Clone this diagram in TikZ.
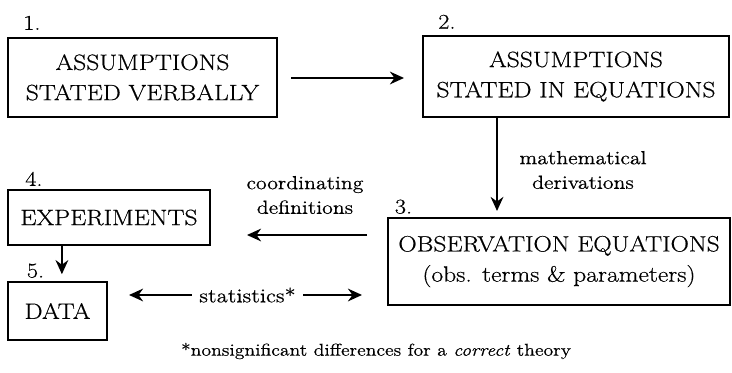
\documentclass[tikz,border=0pt]{standalone}
\usepackage{fontspec}
\setmainfont{Latin Modern Roman}[FakeStretch=1.15, FakeBold=0.5]
\usetikzlibrary{arrows.meta}
\tikzset{
    box/.style={draw, line width=1.4pt, align=center, inner sep=0pt,
        font=\fontsize{15.8}{21.5}\selectfont},
    num/.style={anchor=south west, inner sep=2pt, font=\fontsize{15}{17}\selectfont},
    lbl/.style={align=center, font=\fontsize{13.5}{17.5}\selectfont},
    flow/.style={->, line width=1.6pt},
    >={Stealth[length=10pt,width=9pt]},
}

\begin{document}
\begin{tikzpicture}
    \useasboundingbox (0,0) rectangle (18.3,9.325);
    % the five boxes
    \node [box, minimum width=6.725cm, minimum height=1.975cm] (verbal) at (3.5625,7.39) {ASSUMPTIONS\\STATED VERBALLY};
    \node [box, minimum width=7.65cm, minimum height=2.025cm] (eqs) at (14.4,7.4125) {ASSUMPTIONS\\STATED IN EQUATIONS};
    \node [box, minimum width=8.55cm, minimum height=2.175cm] (obs) at (13.975,2.7875) {OBSERVATION EQUATIONS\\(obs. terms \& parameters)};
    \node [box, minimum width=5.05cm, minimum height=1.375cm] (expt) at (2.725,3.8875) {EXPERIMENTS};
    \node [box, minimum width=2.475cm, minimum height=1.45cm] (data) at (1.4375,1.55) {DATA};
    % numbers
    \node [num] (n1) at ([xshift=0.33cm,yshift=0.1cm]verbal.north west) {1.};
    \node [num] (n2) at ([xshift=0.33cm,yshift=0.08cm]eqs.north west) {2.};
    \node [num] (n3) at ([xshift=0.12cm]obs.north west) {3.};
    \node [num] (n4) at ([xshift=0.38cm]expt.north west) {4.};
    \node [num] (n5) at ([xshift=0.42cm]data.north west) {5.};
    % arrows
    \draw [flow, shorten <=0.33cm, shorten >=0.45cm] ([yshift=-0.015cm]verbal.east) -- ([yshift=-0.015cm]verbal.east -| eqs.west);
    \draw [flow, shorten >=0.15cm] ([xshift=1.875cm]eqs.south west) -- ([xshift=1.875cm]eqs.south west |- obs.north);
    \draw [flow, shorten <=0.5cm, shorten >=0.9cm] ([yshift=-0.45cm]obs.north west) -- ([yshift=-0.45cm]obs.north west -| expt.east);
    \draw [flow, shorten >=0.17cm] ([xshift=0.11cm]data.north |- expt.south) -- ([xshift=0.11cm]data.north);
    \draw [flow, <->, shorten <=0.525cm, shorten >=0.625cm] ([yshift=0.4cm]data.east) -- ([yshift=0.4cm]data.east -| obs.west)
        node [midway, fill=white, inner xsep=5pt, font=\fontsize{14}{16}\selectfont] (stat) {statistics*};
    % labels
    \node [lbl] (derive) at (14.575,5.075) {mathematical\\derivations};
    \node [lbl] (coord) at (7.625,4.45) {coordinating\\definitions};
    \node [lbl, font=\fontsize{12.2}{14}\selectfont] (note) at (9.4,0.55) {*nonsignificant differences for a \textit{correct} theory};
\end{tikzpicture}
\end{document}
